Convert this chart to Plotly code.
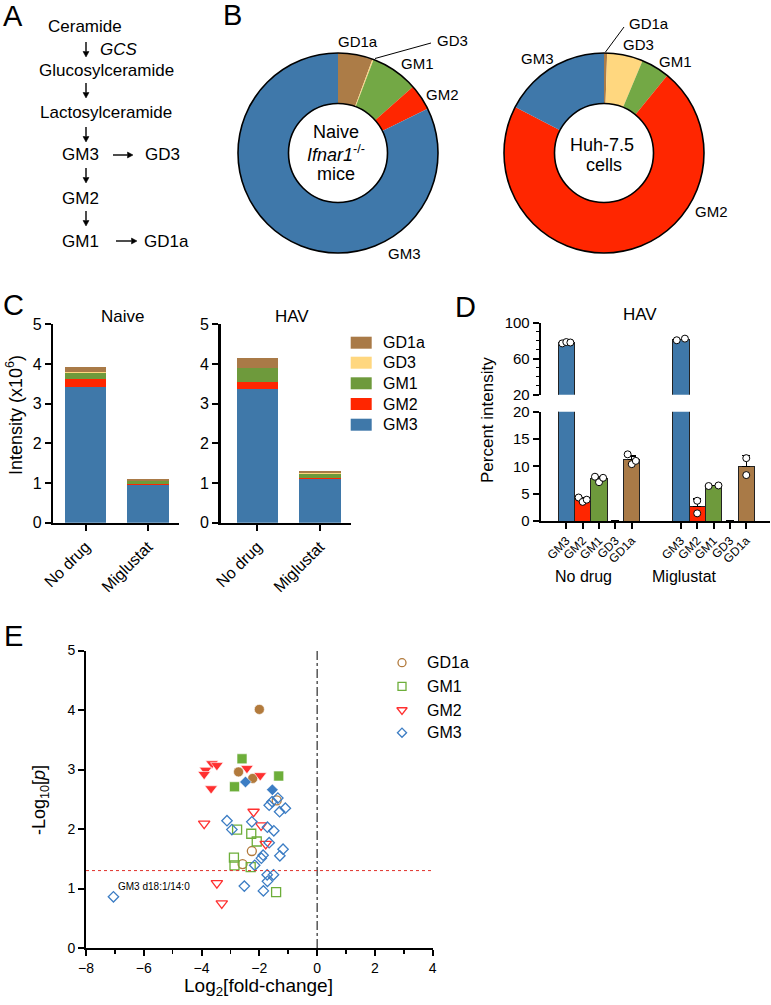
import math
import plotly.graph_objects as go

OFF = 0
W, H = 771, 1005
FONT = "Liberation Sans, Arial, sans-serif"


def X(px):
    return (px - OFF) / W


def Y(py):
    return 1 - (py - OFF) / H


# ---------------- colours ----------------
COL = {"GD1a": "#A97A47", "GD3": "#FFD77F", "GM1": "#6E9A3C", "GM2": "#FF2600", "GM3": "#3F78A9"}
PIE_COL = {"GD1a": "#AC7C47", "GD3": "#FFD77F", "GM1": "#73A845", "GM2": "#FF2600", "GM3": "#3F78AA"}
E_COL = {"GD1a": "#B27A3C", "GM1": "#6DAE3A", "GM2": "#FF3030", "GM3": "#3C7DC4"}

# ---------------- Panel B data ----------------
pie_labels = ["GD1a", "GD3", "GM1", "GM2", "GM3"]
pie_naive = [5.6, 0.2, 7.7, 4.2, 82.3]
pie_huh = [0.5, 5.8, 4.6, 71.7, 17.4]

# ---------------- Panel C data ----------------
c_groups = ["No drug", "Miglustat"]
c_species = ["GM3", "GM2", "GM1", "GD3", "GD1a"]
c_naive_GM3 = [3.41, 0.95]
c_naive_GM2 = [0.21, 0.03]
c_naive_GM1 = [0.16, 0.07]
c_naive_GD3 = [0.01, 0.01]
c_naive_GD1a = [0.14, 0.04]
c_hav_GM3 = [3.37, 1.10]
c_hav_GM2 = [0.17, 0.03]
c_hav_GM1 = [0.35, 0.10]
c_hav_GD3 = [0.01, 0.01]
c_hav_GD1a = [0.26, 0.06]
c_legend = ["GD1a", "GD3", "GM1", "GM2", "GM3"]

# ---------------- Panel D data ----------------
d_species = ["GM3", "GM2", "GM1", "GD3", "GD1a"]
d_nodrug_mean = [77.8, 3.9, 7.7, 0, 11.2]
d_nodrug_err = [0.8, 0.4, 0.5, 0, 0.7]
d_mig_mean = [81.4, 2.6, 6.45, 0, 9.95]
d_mig_err = [1.0, 1.4, 0.1, 0, 2.0]
d_nodrug_pts = [[77.0, 78.5, 78.0], [4.3, 3.5, 3.9], [8.1, 7.1, 7.9], [], [12.2, 10.4, 11.0]]
d_mig_pts = [[80.5, 82.3], [3.7, 1.4], [6.4, 6.5], [], [11.5, 8.4]]
d_nodrug_jit = [[-0.25, 0, 0.25], [-0.25, 0, 0.25], [-0.25, 0, 0.25], [], [-0.25, 0, 0.25]]
d_mig_jit = [[-0.25, 0.25], [0, 0], [-0.3, 0.3], [], [0, 0]]
d_pos_nodrug = [0, 1, 2, 3, 4]
d_pos_mig = [7, 8, 9, 10, 11]

# ---------------- Panel E data ----------------
e_gd1a_open_x = [-1.40, -2.26, -2.58]
e_gd1a_open_y = [2.48, 1.63, 1.41]
e_gd1a_fill_x = [-2.00, -2.72, -2.23]
e_gd1a_fill_y = [4.01, 2.96, 2.85]
e_gm1_open_x = [-2.77, -2.28, -2.09, -2.88, -2.86, -2.30, -1.42]
e_gm1_open_y = [1.99, 1.92, 1.79, 1.52, 1.39, 1.36, 0.94]
e_gm1_fill_x = [-2.60, -2.86, -1.33]
e_gm1_fill_y = [3.18, 2.71, 2.89]
e_gm2_open_x = [-2.20, -3.91, -1.94, -1.78, -3.47, -3.30]
e_gm2_open_y = [2.29, 2.09, 2.06, 1.75, 1.09, 0.75]
e_gm2_fill_x = [-3.64, -3.47, -3.86, -3.91, -3.67, -2.43, -1.97]
e_gm2_fill_y = [3.10, 3.07, 2.99, 2.92, 2.68, 3.02, 2.90]
e_gm3_open_x = [-3.12, -2.95, -2.26, -1.66, -1.56, -1.36, -1.30, -1.10, -1.72, -1.50, -1.66,
                -1.18, -1.29, -1.87, -1.93, -2.16, -1.73, -1.51, -1.72, -1.86, -2.52, -7.05]
e_gm3_open_y = [2.14, 1.99, 2.12, 2.40, 2.46, 2.52, 2.29, 2.35, 2.03, 1.97, 1.77,
                1.66, 1.55, 1.56, 1.51, 1.39, 1.23, 1.23, 1.12, 0.96, 1.04, 0.86]
e_gm3_fill_x = [-2.48, -1.55]
e_gm3_fill_y = [2.79, 2.66]
e_threshold = 1.301
e_legend = ["GD1a", "GM1", "GM2", "GM3"]
e_symbols = {"GD1a": "circle", "GM1": "square", "GM2": "triangle-down", "GM3": "diamond"}

fig = go.Figure()

# ---------------- Panel B pies ----------------
for vals, cx in [(pie_naive, 338), (pie_huh, 604)]:
    fig.add_trace(go.Pie(
        labels=pie_labels, values=vals, hole=0.495, sort=False, direction="clockwise",
        rotation=0, textinfo="none", hoverinfo="label+value",
        marker=dict(colors=[PIE_COL[l] for l in pie_labels], line=dict(width=0)),
        domain=dict(x=[X(cx - 100), X(cx + 100)], y=[Y(253), Y(53)]),
        showlegend=False))

# ---------------- Panel C stacked bars ----------------
c_naive = {"GM3": c_naive_GM3, "GM2": c_naive_GM2, "GM1": c_naive_GM1, "GD3": c_naive_GD3, "GD1a": c_naive_GD1a}
c_hav = {"GM3": c_hav_GM3, "GM2": c_hav_GM2, "GM1": c_hav_GM1, "GD3": c_hav_GD3, "GD1a": c_hav_GD1a}
for data, xa, ya in [(c_naive, "x", "y"), (c_hav, "x2", "y2")]:
    for sp in c_species:
        fig.add_trace(go.Bar(x=[0, 1], y=data[sp], width=0.668, marker=dict(color=COL[sp], line=dict(width=0)),
                             xaxis=xa, yaxis=ya, showlegend=False, name=sp))

# ---------------- Panel D bars ----------------
for i, sp in enumerate(d_species):
    xs = [d_pos_nodrug[i], d_pos_mig[i]]
    ys = [d_nodrug_mean[i], d_mig_mean[i]]
    errs = [d_nodrug_err[i], d_mig_err[i]]
    bar_kw = dict(x=xs, y=ys, width=1.0, marker=dict(color=COL[sp], line=dict(color="#222222", width=1)),
                  showlegend=False, name=sp)
    if sp == "GM3":
        fig.add_trace(go.Bar(xaxis="x4", yaxis="y4", **bar_kw))
        fig.add_trace(go.Bar(xaxis="x3", yaxis="y3", **bar_kw))
    else:
        fig.add_trace(go.Bar(xaxis="x3", yaxis="y3",
                             error_y=dict(type="data", symmetric=False, array=errs, arrayminus=[0, 0],
                                          color="black", thickness=1.3, width=4, visible=True),
                             **bar_kw))
    px_, py_ = [], []
    for pos, pts, jit in [(d_pos_nodrug[i], d_nodrug_pts[i], d_nodrug_jit[i]),
                          (d_pos_mig[i], d_mig_pts[i], d_mig_jit[i])]:
        for v, j in zip(pts, jit):
            px_.append(pos + j)
            py_.append(v)
    if px_:
        fig.add_trace(go.Scatter(x=px_, y=py_, mode="markers",
                                 marker=dict(symbol="circle", size=7, color="white", line=dict(color="black", width=1)),
                                 xaxis="x4" if sp == "GM3" else "x3", yaxis="y4" if sp == "GM3" else "y3",
                                 showlegend=False, hoverinfo="y"))

# ---------------- Panel E scatter ----------------
e_sets = [
    ("GD1a", e_gd1a_open_x, e_gd1a_open_y, e_gd1a_fill_x, e_gd1a_fill_y),
    ("GM1", e_gm1_open_x, e_gm1_open_y, e_gm1_fill_x, e_gm1_fill_y),
    ("GM2", e_gm2_open_x, e_gm2_open_y, e_gm2_fill_x, e_gm2_fill_y),
    ("GM3", e_gm3_open_x, e_gm3_open_y, e_gm3_fill_x, e_gm3_fill_y),
]
e_size = {"GD1a": 9, "GM1": 9, "GM2": 10, "GM3": 8}
for sp, ox, oy, fx, fy in e_sets:
    fig.add_trace(go.Scatter(x=ox, y=oy, mode="markers", xaxis="x5", yaxis="y5", showlegend=False,
                             marker=dict(symbol=e_symbols[sp] + "-open", size=e_size[sp], color=E_COL[sp],
                                         line=dict(width=1.3, color=E_COL[sp])), name=sp))
    fig.add_trace(go.Scatter(x=fx, y=fy, mode="markers", xaxis="x5", yaxis="y5", showlegend=False,
                             marker=dict(symbol=e_symbols[sp], size=e_size[sp] + 1, color=E_COL[sp],
                                         line=dict(width=0.6, color="white")), name=sp))

leg_rows = [662.7, 686.3, 710.0, 732.7]
for sp, ry in zip(e_legend, leg_rows):
    fig.add_trace(go.Scatter(x=[402], y=[ry], mode="markers", xaxis="x6", yaxis="y6", showlegend=False,
                             marker=dict(symbol=e_symbols[sp] + "-open", size=e_size[sp] - 1, color=E_COL[sp],
                                         line=dict(width=1.3, color=E_COL[sp])), hoverinfo="skip"))


def axstyle(**kw):
    d = dict(showline=True, linecolor="black", linewidth=2, ticks="outside", ticklen=6, tickwidth=2,
             tickcolor="black", showgrid=False, zeroline=False, automargin=False,
             tickfont=dict(family=FONT, size=16, color="black"), fixedrange=True)
    d.update(kw)
    return d


def hidden(**kw):
    d = dict(visible=False, fixedrange=True, automargin=False, showgrid=False, zeroline=False)
    d.update(kw)
    return d


layout = dict(
    template="none",
    width=W, height=H, margin=dict(l=0, r=0, t=0, b=0, pad=0, autoexpand=False),
    paper_bgcolor="white", plot_bgcolor="white",
    barmode="stack", bargap=0, showlegend=False, font=dict(family=FONT, color="black"),
    xaxis=axstyle(domain=[X(53.3), X(179)], range=[-0.52, 1.5], anchor="y", tickvals=[0, 1],
                  ticktext=c_groups, tickangle=-45, linewidth=2.5),
    yaxis=axstyle(domain=[Y(522.7), Y(324.3)], range=[0, 5], anchor="x", dtick=1, linewidth=2.5),
    xaxis2=axstyle(domain=[X(220.7), X(350.7)], range=[-0.59, 1.496], anchor="y2", tickvals=[0, 1],
                   ticktext=c_groups, tickangle=-45, linewidth=2.5),
    yaxis2=axstyle(domain=[Y(522.7), Y(324.3)], range=[0, 5], anchor="x2", dtick=1, linewidth=2.5),
    xaxis3=axstyle(domain=[X(540.7), X(770)], range=[-1.565, 12.45], anchor="y3",
                   tickvals=d_pos_nodrug + d_pos_mig, ticktext=d_species + d_species, tickangle=-45,
                   tickfont=dict(family=FONT, size=12, color="black"), ticklen=6),
    yaxis3=axstyle(domain=[Y(521), Y(411.7)], range=[0, 20], anchor="x3", tickvals=[0, 5, 10, 15, 20],
                   tickfont=dict(family=FONT, size=15, color="black")),
    xaxis4=hidden(domain=[X(540.7), X(770)], range=[-1.565, 12.45], anchor="y4"),
    yaxis4=axstyle(domain=[Y(394.7), Y(322.7)], range=[20, 100], anchor="x4", tickvals=[20, 60, 100],
                   tickfont=dict(family=FONT, size=15, color="black"),
                   minor=dict(tickvals=[30, 40, 50, 70, 80, 90], ticklen=3, tickwidth=1.5, ticks="outside",
                              tickcolor="black")),
    xaxis5=axstyle(domain=[X(86), X(432.7)], range=[-8, 4], anchor="y5", dtick=2,
                   tickfont=dict(family=FONT, size=14, color="black"),
                   minor=dict(dtick=1, ticklen=4, tickwidth=1.5, ticks="outside", tickcolor="black")),
    yaxis5=axstyle(domain=[Y(948), Y(650.5)], range=[0, 5], anchor="x5", dtick=1,
                   tickfont=dict(family=FONT, size=14, color="black")),
    xaxis6=hidden(domain=[X(390), X(414)], range=[390, 414], anchor="y6"),
    yaxis6=hidden(domain=[Y(745), Y(650)], range=[745, 650], anchor="x6"),
)

shapes = []
for cx in (338, 604):
    for r in (100, 49.5):
        shapes.append(dict(type="circle", xref="paper", yref="paper", x0=X(cx - r), x1=X(cx + r),
                           y0=Y(153 + r), y1=Y(153 - r), line=dict(color="black", width=1.6)))
shapes.append(dict(type="line", xref="paper", yref="paper", x0=X(375), y0=Y(58.5), x1=X(431), y1=Y(43),
                   line=dict(color="black", width=1)))
shapes.append(dict(type="line", xref="paper", yref="paper", x0=X(605.5), y0=Y(52), x1=X(624), y1=Y(27),
                   line=dict(color="black", width=1)))
c_leg_rows = [342.7, 362.7, 383.3, 404.0, 424.7]
for sp, ry in zip(c_legend, c_leg_rows):
    shapes.append(dict(type="rect", xref="paper", yref="paper", x0=X(350.7), x1=X(371.7), y0=Y(ry + 6),
                       y1=Y(ry - 6), fillcolor=COL[sp], line=dict(width=0)))
shapes.append(dict(type="line", xref="x5", yref="y5", x0=0, x1=0, y0=0, y1=5,
                   line=dict(color="black", width=1, dash="dashdot")))
shapes.append(dict(type="line", xref="x5", yref="y5", x0=-8, x1=4, y0=e_threshold, y1=e_threshold,
                   line=dict(color="#E0302A", width=1, dash="dot")))


def arrow_shape(x0, y0, x1, y1):
    L = math.hypot(x1 - x0, y1 - y0)
    ux, uy = (x1 - x0) / L, (y1 - y0) / L
    hl, hw = 5.5, 3.0
    bx, by = x1 - ux * hl, y1 - uy * hl
    shapes.append(dict(type="line", xref="paper", yref="paper", x0=X(x0), y0=Y(y0), x1=X(bx), y1=Y(by),
                       line=dict(color="black", width=1.4)))
    px1, py1 = bx - uy * hw, by + ux * hw
    px2, py2 = bx + uy * hw, by - ux * hw
    path = f"M {X(x1)},{Y(y1)} L {X(px1)},{Y(py1)} L {X(px2)},{Y(py2)} Z"
    shapes.append(dict(type="path", xref="paper", yref="paper", path=path, fillcolor="black",
                       line=dict(color="black", width=0.5)))


for y0, y1 in [(42, 57), (83, 98), (127, 142), (168, 183), (211, 226)]:
    arrow_shape(86, y0, 86, y1)
arrow_shape(113, 155, 133, 155)
arrow_shape(116, 241, 137, 241)
layout["shapes"] = shapes

ann = []


def T(text, px, py, size=16, xanchor="center", yanchor="middle", angle=0):
    ann.append(dict(text=text, x=X(px), y=Y(py), xref="paper", yref="paper", showarrow=False,
                    font=dict(family=FONT, size=size, color="black"), xanchor=xanchor, yanchor=yanchor,
                    textangle=angle))


for letter, px, py in [("A", 13, 16), ("B", 233, 15), ("C", 13, 305), ("D", 465, 307), ("E", 13, 636)]:
    T(letter, px, py, size=29)

T("Ceramide", 85, 27, 17)
T("<i>GCS</i>", 98, 49, 17, xanchor="left")
T("Glucosylceramide", 106, 70, 17)
T("Lactosylceramide", 106, 112, 17)
T("GM3", 80, 155, 17)
T("GD3", 162, 155, 17)
T("GM2", 80, 198, 17)
T("GM1", 80, 241, 17)
T("GD1a", 166, 241, 17)

T("GD1a", 358, 42, 15)
T("GD3", 452, 40, 15)
T("GM1", 418, 64, 15)
T("GM2", 443, 94, 15)
T("GM3", 404, 254, 15)
T("Naive", 336, 132, 18)
T("<i>Ifnar1</i><sup>-/-</sup>", 336, 153, 18)
T("mice", 336, 174, 18)
T("GD1a", 649, 23, 15)
T("GD3", 638, 44, 15)
T("GM1", 675, 61, 15)
T("GM2", 711, 211, 15)
T("GM3", 537, 58, 15)
T("Huh-7.5", 602, 145, 18)
T("cells", 604, 165, 18)

T("Naive", 123, 316, 17)
T("HAV", 292, 316, 17)
T("Intensity (x10<sup>6</sup>)", 14, 415, 18, angle=-90)
for sp, ry in zip(c_legend, c_leg_rows):
    T(sp, 381, ry, 16, xanchor="left")

T("HAV", 640, 314, 17)
T("Percent intensity", 487, 420, 17, angle=-90)
T("No drug", 583, 576, 16)
T("Miglustat", 684, 576, 16)

T("GM3 d18:1/14:0", 116, 886, 10, xanchor="left")
T("-Log<sub>10</sub>[<i>p</i>]", 40, 800, 18, angle=-90)
T("Log<sub>2</sub>[fold-change]", 258, 987, 19)
for sp, ry in zip(e_legend, leg_rows):
    T(sp, 425, ry, 16, xanchor="left")

layout["annotations"] = ann
fig.update_layout(**layout)
fig.write_html(
    "out.html",
    config={"displayModeBar": False, "staticPlot": True},
    post_script="document.body.style.margin='0';document.body.style.padding='0';"
                "document.body.style.overflow='hidden';",
)
